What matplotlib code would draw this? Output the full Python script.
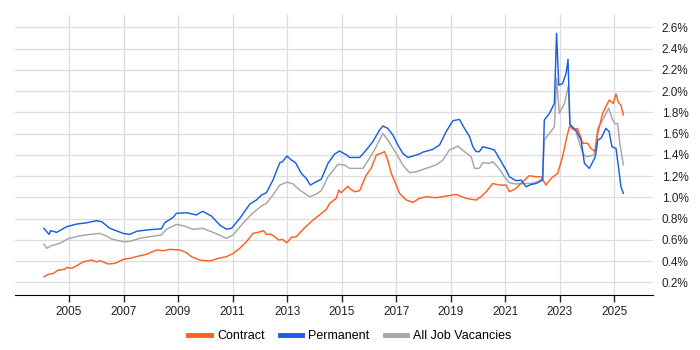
import matplotlib
matplotlib.use("Agg")
import matplotlib.pyplot as plt
from matplotlib.ticker import FuncFormatter

plt.rcParams['font.family'] = ['Liberation Sans', 'DejaVu Sans']

# Permanent (blue) - year, percent
perm_x = [2004.08, 2004.27, 2004.33, 2004.55, 2004.91, 2005.28, 2005.65, 2006.01, 2006.20, 2006.50,
          2006.99, 2007.23, 2007.48, 2007.84, 2008.39, 2008.51, 2008.82, 2008.94, 2009.31, 2009.67,
          2009.90, 2010.22, 2010.53, 2010.77, 2010.96, 2011.26, 2011.63, 2011.87, 2012.06, 2012.24,
          2012.48, 2012.73, 2012.83, 2012.99, 2013.16, 2013.31, 2013.52, 2013.70, 2013.85, 2014.07,
          2014.25, 2014.50, 2014.74, 2014.92, 2015.17, 2015.29, 2015.66, 2015.90, 2016.14, 2016.39,
          2016.51, 2016.69, 2016.88, 2017.06, 2017.24, 2017.43, 2017.61, 2017.85, 2017.98, 2018.34,
          2018.59, 2018.83, 2019.08, 2019.32, 2019.50, 2019.69, 2019.81, 2019.93, 2020.05, 2020.17,
          2020.42, 2020.60, 2020.78, 2021.03, 2021.15, 2021.39, 2021.58, 2021.76, 2021.94, 2022.13,
          2022.37, 2022.43, 2022.62, 2022.80, 2022.88, 2022.96, 2023.10, 2023.23, 2023.30, 2023.37,
          2023.59, 2023.78, 2023.90, 2024.08, 2024.30, 2024.39, 2024.51, 2024.69, 2024.81, 2024.91,
          2025.06, 2025.18, 2025.24, 2025.33]
perm_y = [0.708, 0.651, 0.686, 0.670, 0.723, 0.748, 0.760, 0.780, 0.770, 0.708,
          0.660, 0.651, 0.680, 0.692, 0.704, 0.760, 0.811, 0.849, 0.855, 0.834,
          0.868, 0.824, 0.739, 0.700, 0.708, 0.800, 0.936, 0.974, 1.021, 1.043,
          1.162, 1.325, 1.334, 1.388, 1.350, 1.325, 1.225, 1.178, 1.115, 1.147,
          1.170, 1.320, 1.407, 1.435, 1.400, 1.375, 1.375, 1.445, 1.523, 1.633,
          1.671, 1.649, 1.586, 1.492, 1.414, 1.375, 1.388, 1.407, 1.425, 1.451,
          1.492, 1.617, 1.721, 1.733, 1.649, 1.570, 1.476, 1.430, 1.430, 1.476,
          1.460, 1.445, 1.366, 1.256, 1.193, 1.156, 1.162, 1.099, 1.120, 1.130,
          1.162, 1.727, 1.790, 1.884, 2.543, 2.056, 2.070, 2.167, 2.298, 1.680,
          1.633, 1.539, 1.320, 1.272, 1.380, 1.539, 1.555, 1.649, 1.617, 1.476,
          1.460, 1.225, 1.099, 1.037]

# All job vacancies (grey)
all_x = [2004.08, 2004.20, 2004.36, 2004.67, 2004.97, 2005.40, 2005.77, 2006.14, 2006.38, 2006.56,
         2006.99, 2007.23, 2007.60, 2007.97, 2008.39, 2008.57, 2008.94, 2009.24, 2009.55, 2009.90,
         2010.29, 2010.77, 2011.02, 2011.38, 2011.75, 2012.06, 2012.24, 2012.48, 2012.73, 2012.99,
         2013.22, 2013.46, 2013.83, 2014.07, 2014.25, 2014.50, 2014.86, 2015.11, 2015.29, 2015.78,
         2016.02, 2016.27, 2016.51, 2016.69, 2017.00, 2017.24, 2017.49, 2017.73, 2018.10, 2018.46,
         2018.71, 2018.95, 2019.26, 2019.50, 2019.75, 2019.87, 2020.05, 2020.17, 2020.42, 2020.54,
         2020.72, 2020.97, 2021.15, 2021.39, 2021.64, 2021.94, 2022.19, 2022.37, 2022.43, 2022.62,
         2022.80, 2022.88, 2022.98, 2023.17, 2023.31, 2023.37, 2023.59, 2023.84, 2023.96, 2024.08,
         2024.26, 2024.39, 2024.57, 2024.79, 2024.94, 2025.03, 2025.12, 2025.20, 2025.33]
all_y = [0.557, 0.520, 0.545, 0.567, 0.610, 0.638, 0.651, 0.660, 0.635, 0.607,
         0.582, 0.585, 0.614, 0.630, 0.645, 0.698, 0.745, 0.730, 0.698, 0.708,
         0.670, 0.614, 0.645, 0.755, 0.855, 0.918, 0.943, 1.021, 1.115, 1.143,
         1.125, 1.068, 1.005, 1.030, 1.062, 1.193, 1.310, 1.304, 1.272, 1.272,
         1.366, 1.476, 1.602, 1.539, 1.414, 1.304, 1.231, 1.240, 1.272, 1.304,
         1.351, 1.445, 1.482, 1.430, 1.382, 1.272, 1.272, 1.325, 1.320, 1.335,
         1.287, 1.193, 1.137, 1.125, 1.130, 1.130, 1.147, 1.178, 1.539, 1.602,
         1.664, 2.119, 1.790, 1.884, 2.047, 1.696, 1.617, 1.414, 1.382, 1.388,
         1.398, 1.649, 1.727, 1.837, 1.727, 1.690, 1.696, 1.508, 1.304]

# Contract (orange)
con_x = [2004.08, 2004.24, 2004.43, 2004.61, 2004.85, 2004.91, 2005.10, 2005.28, 2005.53, 2005.83,
         2006.01, 2006.14, 2006.44, 2006.69, 2006.99, 2007.23, 2007.60, 2007.84, 2008.21, 2008.45,
         2008.70, 2009.06, 2009.31, 2009.49, 2009.80, 2010.16, 2010.47, 2010.77, 2011.02, 2011.26,
         2011.51, 2011.75, 2011.93, 2012.14, 2012.24, 2012.42, 2012.70, 2012.83, 2012.98, 2013.16,
         2013.34, 2013.58, 2013.95, 2014.19, 2014.44, 2014.56, 2014.80, 2014.90, 2014.98, 2015.23,
         2015.29, 2015.47, 2015.66, 2015.90, 2016.08, 2016.27, 2016.45, 2016.57, 2016.69, 2016.82,
         2017.00, 2017.12, 2017.37, 2017.61, 2017.85, 2018.10, 2018.46, 2018.83, 2019.20, 2019.56,
         2019.93, 2020.11, 2020.30, 2020.54, 2020.78, 2021.03, 2021.15, 2021.39, 2021.64, 2021.88,
         2022.13, 2022.31, 2022.49, 2022.68, 2022.92, 2023.10, 2023.23, 2023.35, 2023.53, 2023.65,
         2023.84, 2024.02, 2024.14, 2024.30, 2024.39, 2024.57, 2024.81, 2024.96, 2025.06, 2025.15,
         2025.24, 2025.33]
con_y = [0.252, 0.274, 0.284, 0.315, 0.322, 0.340, 0.331, 0.356, 0.393, 0.409,
         0.393, 0.403, 0.372, 0.378, 0.416, 0.425, 0.450, 0.463, 0.504, 0.497,
         0.510, 0.504, 0.479, 0.441, 0.409, 0.400, 0.425, 0.441, 0.472, 0.519,
         0.582, 0.661, 0.670, 0.686, 0.651, 0.651, 0.598, 0.604, 0.572, 0.623,
         0.630, 0.698, 0.786, 0.834, 0.887, 0.943, 0.990, 1.068, 1.043, 1.105,
         1.083, 1.052, 1.062, 1.209, 1.272, 1.398, 1.414, 1.430, 1.351, 1.225,
         1.115, 1.037, 0.974, 0.952, 0.990, 1.005, 0.996, 1.012, 1.027, 0.990,
         0.974, 1.005, 1.052, 1.130, 1.115, 1.115, 1.052, 1.083, 1.147, 1.203,
         1.193, 1.193, 1.115, 1.178, 1.225, 1.382, 1.539, 1.664, 1.633, 1.649,
         1.508, 1.508, 1.460, 1.430, 1.602, 1.790, 1.915, 1.884, 1.972, 1.890,
         1.868, 1.774]

year_ticks = list(range(2005, 2026, 2))
pct_ticks = [0.2, 0.4, 0.6, 0.8, 1.0, 1.2, 1.4, 1.6, 1.8, 2.0, 2.2, 2.4, 2.6]

orange = '#ff5f1f'
blue = '#1a5fe3'
grey = '#a6a6a6'

fig = plt.figure(figsize=(7, 3.5), dpi=100)
ax = fig.add_axes([0.0214, 0.157, 0.912, 0.800])

ax.plot(con_x, con_y, color=orange, lw=1.05, label='Contract', zorder=3)
ax.plot(perm_x, perm_y, color=blue, lw=1.05, label='Permanent', zorder=3)
ax.plot(all_x, all_y, color=grey, lw=1.05, label='All Job Vacancies', zorder=2)

ax.set_xlim(2003.02, 2026.43)
ax.set_ylim(0.08, 2.715)
ax.set_xticks(year_ticks)
ax.set_yticks(pct_ticks)
ax.yaxis.set_major_formatter(FuncFormatter(lambda v, p: '%.1f%%' % v))
ax.yaxis.tick_right()
ax.tick_params(axis='y', length=0, labelsize=8.5, pad=6, colors='#222222')
ax.tick_params(axis='x', length=5, width=1, labelsize=8.5, colors='#222222', pad=3)
ax.grid(True, color='#dddddd', lw=0.9)
ax.set_axisbelow(True)
for side in ['left', 'right', 'top']:
    ax.spines[side].set_visible(False)
ax.spines['bottom'].set_color('#000000')

fig.legend(loc='lower center', ncol=3, frameon=False, fontsize=9, bbox_to_anchor=(0.5, -0.01),
           handlelength=1.8, handletextpad=0.5, columnspacing=1.2)
leg = fig.legends[0]
for line in leg.get_lines():
    line.set_linewidth(3.5)

fig.savefig('out.png', dpi=100)
